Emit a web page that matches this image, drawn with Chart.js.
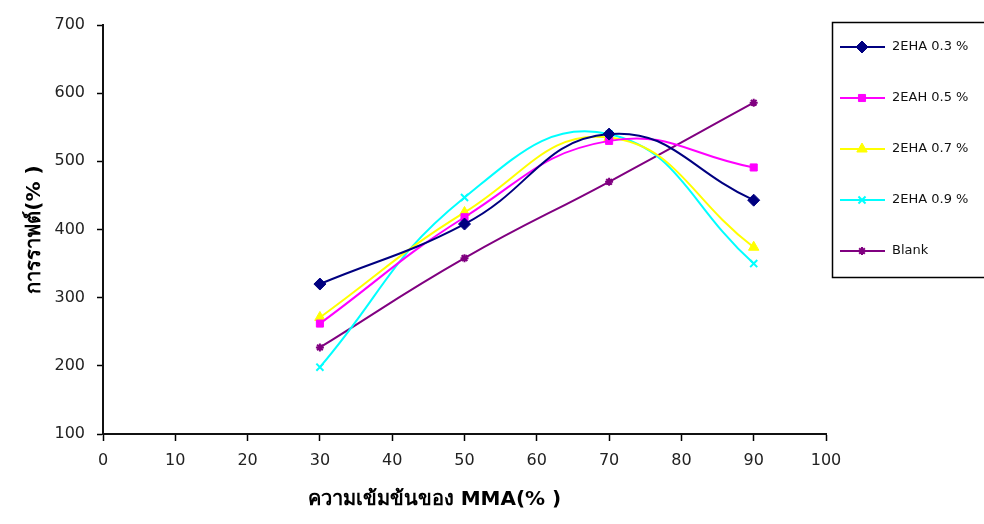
<!DOCTYPE html>
<html>
<head>
<meta charset="utf-8">
<script src="https://cdn.jsdelivr.net/npm/chart.js@4/dist/chart.umd.min.js"></script>
<style>
  html, body { margin: 0; padding: 0; background: #fff; }
  #wrap { width: 984px; height: 524px; position: relative; }
</style>
</head>
<body>
<div id="wrap"><canvas id="c" width="984" height="524"></canvas></div>
<script>
// MMA concentration (%) on the x axis
const mmaLevels = [30, 50, 70, 90];

// grafting (%) for each initiator level
const eha03 = [320, 408, 540, 443];
const eah05 = [262, 418, 530, 491];
const eha07 = [271, 425, 535, 374];
const eha09 = [198, 447, 540, 350];
const blank = [227, 358, 470, 586];

const seriesNames = ['2EHA 0.3 %', '2EAH 0.5 %', '2EHA 0.7 %', '2EHA 0.9 %', 'Blank'];
const seriesValues = [eha03, eah05, eha07, eha09, blank];
const seriesColors = ['#000080', '#FF00FF', '#FFFF00', '#00FFFF', '#800080'];
const seriesMarkers = ['rectRot', 'rect', 'triangle', 'crossRot', 'star'];
const seriesRadius = [6, 5, 6, 5, 4];

const datasets = seriesNames.map((name, i) => ({
  label: name,
  data: mmaLevels.map((x, j) => ({ x: x, y: seriesValues[i][j] })),
  borderColor: seriesColors[i],
  backgroundColor: seriesColors[i],
  borderWidth: 2,
  pointStyle: seriesMarkers[i],
  pointRadius: seriesRadius[i],
  pointBorderWidth: (seriesMarkers[i] === 'crossRot' || seriesMarkers[i] === 'star') ? 2 : 1,
  pointBorderColor: seriesColors[i],
  pointBackgroundColor: seriesColors[i],
  tension: 0.45,
  fill: false
}));

// boxed legend on the right, line + marker per series
const boxedLegend = {
  id: 'boxedLegend',
  afterDraw(chart) {
    const ctx = chart.ctx;
    ctx.save();
    ctx.strokeStyle = '#000';
    ctx.lineWidth = 1.5;
    ctx.strokeRect(832.5, 22.5, 170, 255);
    ctx.font = '13px "DejaVu Sans", sans-serif';
    ctx.textBaseline = 'middle';
    ctx.textAlign = 'left';
    chart.data.datasets.forEach((ds, i) => {
      const y = 47 + i * 51;
      ctx.strokeStyle = ds.borderColor;
      ctx.lineWidth = 2;
      ctx.beginPath();
      ctx.moveTo(840, y);
      ctx.lineTo(885, y);
      ctx.stroke();
      ctx.fillStyle = ds.pointBackgroundColor;
      ctx.strokeStyle = ds.pointBorderColor;
      ctx.lineWidth = ds.pointBorderWidth;
      Chart.helpers.drawPoint(ctx, {
        pointStyle: ds.pointStyle,
        radius: ds.pointRadius,
        rotation: 0,
        borderWidth: ds.pointBorderWidth
      }, 862, y);
      ctx.fillStyle = '#111';
      ctx.fillText(ds.label, 892, y);
    });
    ctx.restore();
  }
};

const tickFont = { family: '"DejaVu Sans", sans-serif', size: 16 };
const titleFont = { family: '"DejaVu Sans", "Liberation Sans", sans-serif', size: 20, weight: 'bold' };

new Chart(document.getElementById('c'), {
  type: 'line',
  data: { datasets: datasets },
  plugins: [boxedLegend],
  options: {
    responsive: false,
    animation: false,
    layout: { padding: { left: 0, top: 25, right: 158, bottom: 0 } },
    plugins: {
      legend: { display: false },
      tooltip: { enabled: false }
    },
    scales: {
      x: {
        type: 'linear',
        min: 0,
        max: 100,
        afterFit(s) { s.height = 90; },
        ticks: { stepSize: 10, color: '#222', font: tickFont, padding: 10, maxRotation: 0 },
        grid: { drawOnChartArea: false, drawTicks: true, tickLength: 7, color: '#000', tickColor: '#000', tickWidth: 1.5 },
        border: { color: '#111', width: 2 },
        title: {
          display: true,
          // trailing em spaces nudge the centred title a little to the left
          text: 'ความเข้มข้นของ MMA(% )\u2003\u2003\u2003',
          color: '#000',
          font: titleFont,
          padding: { top: 0, bottom: 12 }
        }
      },
      y: {
        min: 100,
        max: 700,
        afterFit(s) { s.width = 103; },
        ticks: { stepSize: 100, color: '#222', font: tickFont, padding: 12 },
        grid: { drawOnChartArea: false, drawTicks: true, tickLength: 6, color: '#000', tickColor: '#000', tickWidth: 1.5 },
        border: { color: '#111', width: 2 },
        title: {
          display: true,
          text: 'การราฟต์(% )',
          color: '#000',
          font: titleFont,
          padding: { top: 23, bottom: 0 }
        }
      }
    }
  }
});
</script>
</body>
</html>
